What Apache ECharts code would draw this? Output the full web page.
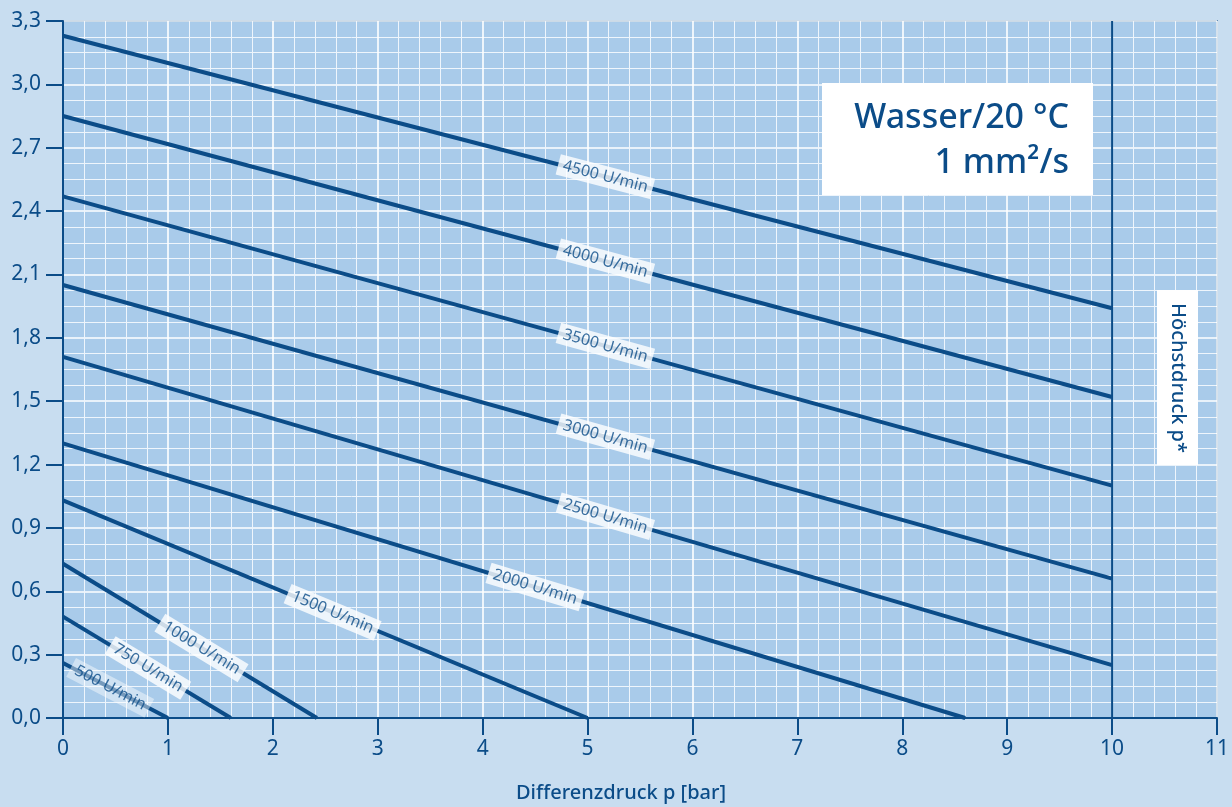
<!DOCTYPE html>
<html>
<head>
<meta charset="utf-8">
<script src="https://cdn.jsdelivr.net/npm/echarts@6/dist/echarts.min.js"></script>
<style>
html,body{margin:0;padding:0;background:#c8ddf0;}
#c{width:1232px;height:807px;}
</style>
</head>
<body>
<div id="c"></div>
<script>
// ---- data ----
const speeds = ['4500', '4000', '3500', '3000', '2500', '2000', '1500', '1000', '750', '500'];
const startY = [3.23, 2.85, 2.47, 2.05, 1.71, 1.30, 1.03, 0.73, 0.48, 0.26];
const endX   = [10, 10, 10, 10, 10, 8.6, 5.0, 2.42, 1.6, 1.0];
const endY   = [1.94, 1.52, 1.10, 0.66, 0.25, 0, 0, 0, 0, 0];
const labelX = [5.17, 5.17, 5.17, 5.17, 5.17, 4.5, 2.57, 1.32, 0.81, 0.45];
const xTicks = [0,1,2,3,4,5,6,7,8,9,10,11];
const yTicks = [0,0.3,0.6,0.9,1.2,1.5,1.8,2.1,2.4,2.7,3.0,3.3];

const DARK = '#0b4c88';
const FONT = 'Noto Sans';

const chart = echarts.init(document.getElementById('c'));

function lineSeries() {
  return speeds.map((s, i) => ({
    name: s + ' U/min',
    type: 'line',
    data: [[0, startY[i]], [endX[i], endY[i]]],
    symbol: 'none',
    lineStyle: { color: DARK, width: 4 },
    z: 3,
    silent: true
  }));
}

function labelData(rot) {
  return speeds.map((s, i) => {
    const t = labelX[i] / endX[i];
    const y = startY[i] + (endY[i] - startY[i]) * t;
    const last = i === speeds.length - 1;
    return {
      value: [labelX[i], y],
      label: {
        show: true,
        position: 'inside',
        formatter: s + ' U/min',
        rotate: rot ? rot[i] : 0,
        backgroundColor: last ? 'rgba(255,255,255,0.55)' : '#ffffff',
        color: DARK,
        fontFamily: FONT,
        fontSize: 16,
        padding: [3, 5, 2, 5]
      }
    };
  });
}

const option = {
  backgroundColor: '#c8ddf0',
  animation: false,
  grid: {
    left: 63, right: 12, top: 21, bottom: 89,
    show: true,
    backgroundColor: '#a9cbea',
    borderColor: DARK,
    borderWidth: 1.5
  },
  xAxis: {
    type: 'value',
    min: xTicks[0], max: xTicks[xTicks.length - 1], interval: 1,
    axisLine: { show: true, lineStyle: { color: DARK, width: 2 } },
    axisTick: { show: true, length: 17, lineStyle: { color: DARK, width: 2 } },
    axisLabel: { color: DARK, fontSize: 21, fontFamily: FONT, margin: 21 },
    splitLine: { show: true, lineStyle: { color: '#ffffff', width: 1.6 } },
    minorTick: { show: false, splitNumber: 5 },
    minorSplitLine: { show: true, lineStyle: { color: '#eef5fc', width: 1 } }
  },
  yAxis: {
    type: 'value',
    min: yTicks[0], max: yTicks[yTicks.length - 1], interval: 0.3,
    axisLine: { show: true, lineStyle: { color: DARK, width: 2 } },
    axisTick: { show: true, length: 17, lineStyle: { color: DARK, width: 2 } },
    axisLabel: {
      color: DARK, fontSize: 21, fontFamily: FONT, margin: 22,
      formatter: v => v.toFixed(1).replace('.', ',')
    },
    splitLine: { show: true, lineStyle: { color: '#ffffff', width: 1.6 } },
    minorTick: { show: false, splitNumber: 4 },
    minorSplitLine: { show: true, lineStyle: { color: '#eef5fc', width: 1 } }
  },
  series: [
    ...lineSeries(),
    {
      type: 'line',
      data: [[10, 0], [10, 3.3]],
      symbol: 'none',
      lineStyle: { color: DARK, width: 2 },
      z: 2, silent: true
    },
    {
      type: 'scatter',
      data: labelData(null),
      symbolSize: 0,
      z: 5, silent: true
    }
  ],
  graphic: [
    { type: 'rect', shape: { x: 822, y: 83, width: 271, height: 112 }, style: { fill: '#ffffff' }, z: 10 },
    { type: 'text', x: 1069, y: 118, style: { text: 'Wasser/20 °C', fill: DARK, font: '500 34px "Noto Sans"', align: 'right', verticalAlign: 'middle' }, z: 11 },
    { type: 'text', x: 1069, y: 163, style: { text: '1 mm²/s', fill: DARK, font: '500 34px "Noto Sans"', align: 'right', verticalAlign: 'middle' }, z: 11 },
    { type: 'rect', shape: { x: 1157, y: 290, width: 41, height: 175 }, style: { fill: '#ffffff' }, z: 10 },
    { type: 'text', x: 1178, y: 378, rotation: -Math.PI / 2, style: { text: 'Höchstdruck p*', fill: DARK, font: '500 20px "Noto Sans"', align: 'center', verticalAlign: 'middle' }, z: 11 },
    { type: 'text', x: 621, y: 793, style: { text: 'Differenzdruck p [bar]', fill: DARK, font: '500 20px "Noto Sans"', align: 'center', verticalAlign: 'middle' }, z: 11 }
  ]
};

chart.setOption(option);

// compute label rotations from the on-screen slope of each line
const rot = speeds.map((s, i) => {
  const a = chart.convertToPixel({ gridIndex: 0 }, [0, startY[i]]);
  const b = chart.convertToPixel({ gridIndex: 0 }, [endX[i], endY[i]]);
  return -Math.atan2(b[1] - a[1], b[0] - a[0]) * 180 / Math.PI;
});
const series = option.series.slice();
series[series.length - 1] = Object.assign({}, series[series.length - 1], { data: labelData(rot) });
chart.setOption({ series: series });
</script>
</body>
</html>
